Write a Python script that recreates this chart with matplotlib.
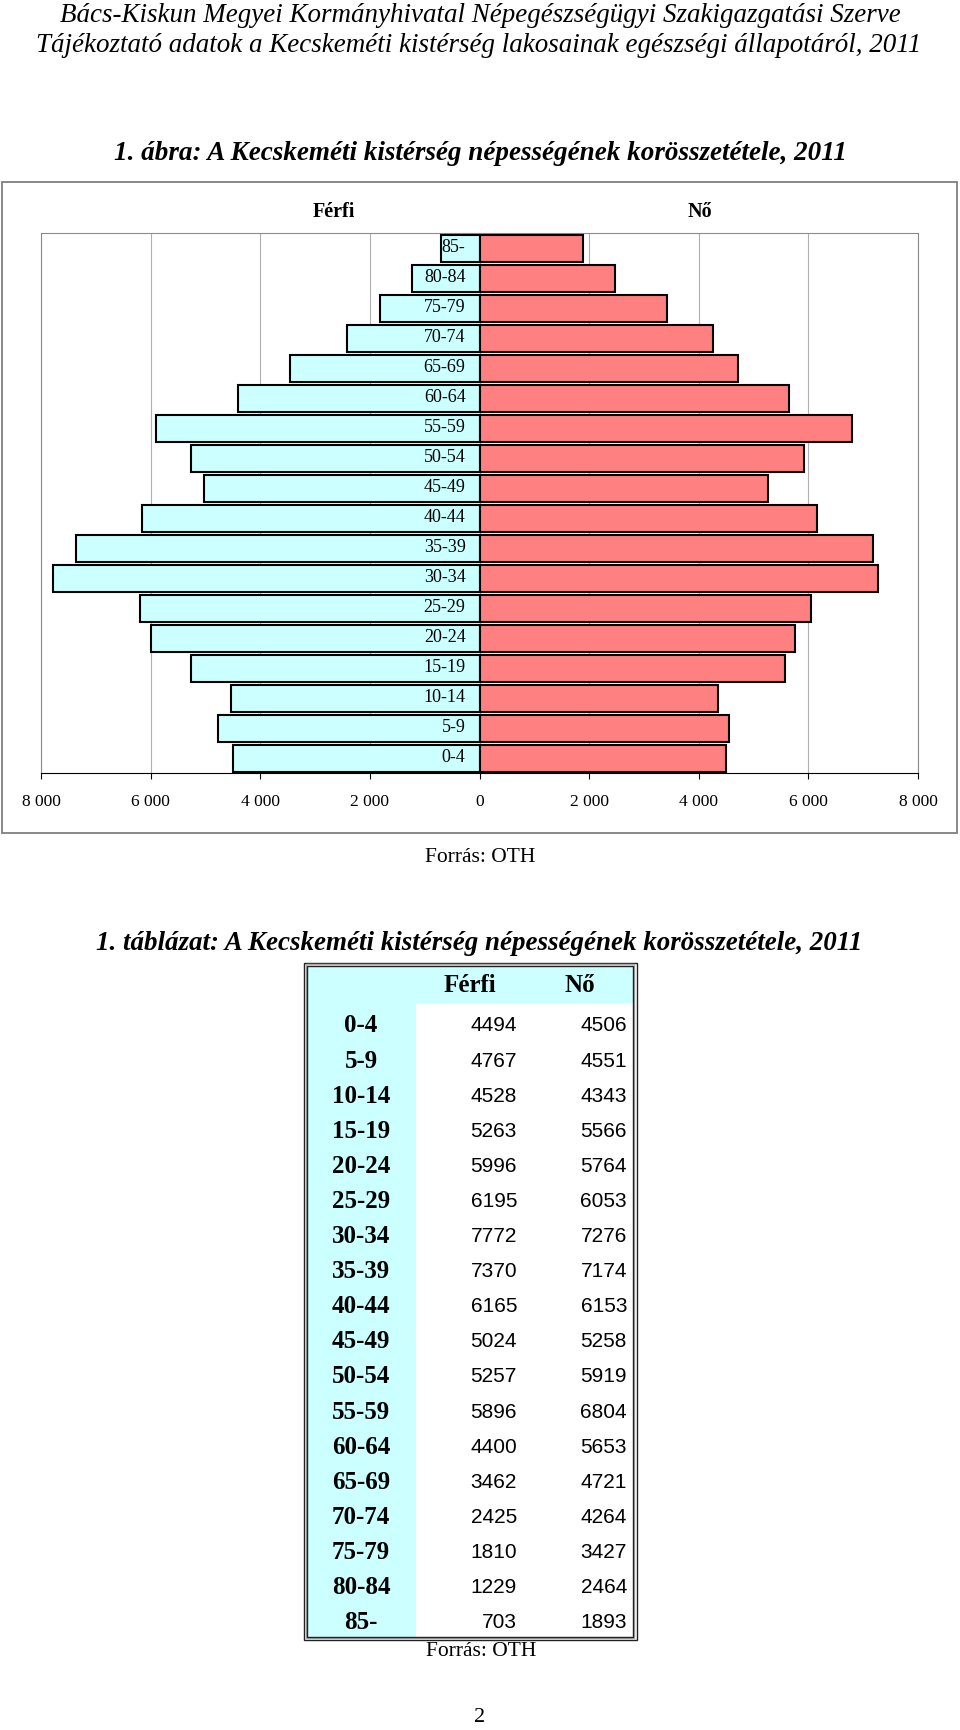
import matplotlib
matplotlib.use("Agg")
import matplotlib.pyplot as plt
from matplotlib.patches import Rectangle
from matplotlib.ticker import FuncFormatter

# ---------------- data ----------------
age_groups = ["0-4", "5-9", "10-14", "15-19", "20-24", "25-29", "30-34", "35-39",
              "40-44", "45-49", "50-54", "55-59", "60-64", "65-69", "70-74",
              "75-79", "80-84", "85-"]
male = [4494, 4767, 4528, 5263, 5996, 6195, 7772, 7370, 6165, 5024, 5257,
        5896, 4400, 3462, 2425, 1810, 1229, 703]
female = [4506, 4551, 4343, 5566, 5764, 6053, 7276, 7174, 6153, 5258, 5919,
          6804, 5653, 4721, 4264, 3427, 2464, 1893]
x_ticks = [-8000, -6000, -4000, -2000, 0, 2000, 4000, 6000, 8000]
series_labels = ["Férfi", "Nő"]

header1 = "Bács-Kiskun Megyei Kormányhivatal Népegészségügyi Szakigazgatási Szerve"
header2 = "Tájékoztató adatok a Kecskeméti kistérség lakosainak egészségi állapotáról, 2011"
chart_title = "1. ábra: A Kecskeméti kistérség népességének korösszetétele, 2011"
table_title = "1. táblázat: A Kecskeméti kistérség népességének korösszetétele, 2011"
source = "Forrás: OTH"
page_no = "2"

# ---------------- style ----------------
W, H = 960, 1730
SERIF = "Liberation Serif"
SANS = "Liberation Sans"
C_MALE = "#CCFFFF"
C_FEMALE = "#FF8080"

fig = plt.figure(figsize=(W / 100, H / 100), dpi=100)
fig.patch.set_facecolor("white")


def fx(x):
    return x / W


def fy(y):
    return 1 - y / H


renderer = fig.canvas.get_renderer()


def fit_width(t, target):
    for _ in range(3):
        bb = t.get_window_extent(renderer)
        t.set_fontsize(t.get_fontsize() * target / bb.width)


# header lines
t = fig.text(fx(480), fy(15), header1, family=SERIF, style="italic",
             fontsize=18, ha="center", va="center")
fit_width(t, 841)
t = fig.text(fx(479), fy(45), header2, family=SERIF, style="italic",
             fontsize=18, ha="center", va="center")
fit_width(t, 886)

# chart title
t = fig.text(fx(480), fy(153), chart_title, family=SERIF, style="italic",
             weight="bold", fontsize=18, ha="center", va="center")
fit_width(t, 735)

# outer chart frame
fig.patches.append(Rectangle((fx(2), fy(833)), fx(955), (833 - 182) / H,
                             transform=fig.transFigure, fill=False,
                             edgecolor="#7f7f7f", lw=1.3))

# series labels
fig.text(fx(334), fy(212), series_labels[0], family=SERIF, weight="bold",
         fontsize=14.5, ha="center", va="center")
fig.text(fx(700), fy(212), series_labels[1], family=SERIF, weight="bold",
         fontsize=14.5, ha="center", va="center")

# ---------------- pyramid ----------------
ax = fig.add_axes([fx(41), fy(773), 877 / W, (773 - 233) / H])
ypos = list(range(len(age_groups)))
ax.barh(ypos, [-v for v in male], height=0.9, color=C_MALE,
        edgecolor="black", lw=1.5, zorder=3)
ax.barh(ypos, female, height=0.9, color=C_FEMALE,
        edgecolor="black", lw=1.5, zorder=3)
ax.set_xlim(-8000, 8000)
ax.set_ylim(-0.5, len(age_groups) - 0.5)
for i, lab in enumerate(age_groups):
    ax.annotate(lab, xy=(0, i), xytext=(-10, 0), textcoords="offset points",
                ha="right", va="center", family=SERIF, fontsize=13, zorder=5)
ax.set_xticks(x_ticks)
ax.xaxis.set_major_formatter(FuncFormatter(
    lambda v, p: f"{abs(int(v)):,}".replace(",", " ")))
ax.set_yticks([])
ax.tick_params(axis="x", direction="out", length=4, width=0.8, pad=11,
               labelsize=12.5, colors="black")
for lbl in ax.get_xticklabels():
    lbl.set_family(SERIF)
ax.grid(axis="x", color="#b0b0b0", lw=0.8, zorder=0)
for s in ["left", "right", "top"]:
    ax.spines[s].set_color("#8c8c8c")
    ax.spines[s].set_linewidth(0.8)
ax.spines["bottom"].set_color("black")
ax.spines["bottom"].set_linewidth(0.8)

fig.text(fx(480), fy(857), source, family=SERIF, fontsize=15.5,
         ha="center", va="center")

# ---------------- table ----------------
t = fig.text(fx(479), fy(943), table_title, family=SERIF, style="italic",
             weight="bold", fontsize=18, ha="center", va="center")
fit_width(t, 768)

tx0, tx1, ty0, ty1 = 300, 641, 959, 1644
tab = fig.add_axes([fx(tx0), fy(ty1), (tx1 - tx0) / W, (ty1 - ty0) / H])
tab.set_xlim(tx0, tx1)
tab.set_ylim(ty1, ty0)
tab.axis("off")

# cyan areas
tab.add_patch(Rectangle((306, 965), 635 - 306, 1003 - 965, color=C_MALE, lw=0))
tab.add_patch(Rectangle((306, 965), 416 - 306, 1638 - 965, color=C_MALE, lw=0))
# double border
tab.add_patch(Rectangle((304, 963), 637 - 304, 1640 - 963, fill=False,
                        edgecolor="#222222", lw=1.0))
tab.add_patch(Rectangle((305.5, 964.5), 634 - 305.5, 1638.5 - 964.5, fill=False,
                        edgecolor="#aaaaaa", lw=1.0))
tab.add_patch(Rectangle((307, 966), 633 - 307, 1637 - 966, fill=False,
                        edgecolor="#222222", lw=1.0))

tab.text(470, 986, series_labels[0], family=SERIF, weight="bold", fontsize=18,
         ha="center", va="center")
tab.text(580, 986, series_labels[1], family=SERIF, weight="bold", fontsize=18,
         ha="center", va="center")

row_y0, row_dy = 1026, 35.1
for i, lab in enumerate(age_groups):
    yy = row_y0 + i * row_dy
    tab.text(361, yy, lab, family=SERIF, weight="bold", fontsize=18,
             ha="center", va="center")
    tab.text(517, yy, str(male[i]), family=SANS, fontsize=15,
             ha="right", va="center")
    tab.text(627, yy, str(female[i]), family=SANS, fontsize=15,
             ha="right", va="center")

fig.text(fx(481), fy(1652), source, family=SERIF, fontsize=15.5,
         ha="center", va="center")
fig.text(fx(480), fy(1718), page_no, family=SERIF, fontsize=16,
         ha="center", va="center")

fig.savefig("out.png", dpi=100, facecolor="white")
